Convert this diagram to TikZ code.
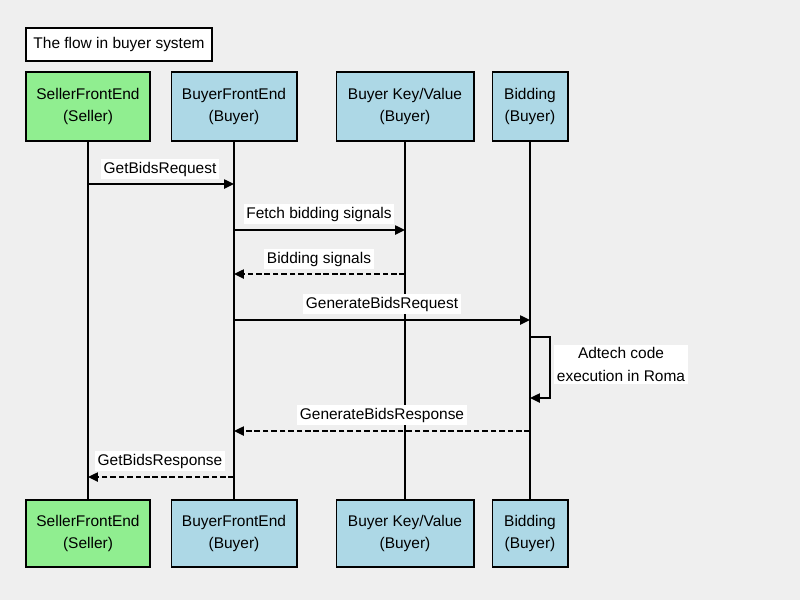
\documentclass[tikz,border=0pt]{standalone}
\usepackage{fontspec}
\setmainfont{Liberation Sans}
\usepackage{xcolor}
\usetikzlibrary{arrows.meta, positioning}

\definecolor{seller}{HTML}{90EE90}
\definecolor{buyer}{HTML}{ADD8E6}
\definecolor{canvas}{HTML}{EFEFEF}

\tikzset{
    actor/.style={draw, line width=1.4pt, minimum height=1.725cm, align=center, inner sep=2pt},
    msg/.style={line width=1.1pt},
    reply/.style={line width=1.1pt, dash pattern=on 4pt off 2pt},
    lbl/.style={fill=white, inner sep=1.8pt}
}

\begin{document}
\begin{tikzpicture}[>={Triangle[length=7pt, width=6.5pt]}, x=0.025cm, y=-0.025cm,
    font=\fontsize{11}{16.3}\selectfont]
            % Nền và khung hình
            \fill[canvas] (0,0) rectangle (800,600);
            \useasboundingbox (0,0) rectangle (800,600);

            % Tiêu đề
            \node[draw, fill=white, line width=1.2pt, minimum width=4.65cm, minimum height=0.825cm] (title) at (119,44.5) {The flow in buyer system};

            % Các khối phía trên
            \node[actor, fill=seller, minimum width=3.1cm] (sfeA) at (88,106.5) {SellerFrontEnd\\(Seller)};
            \node[actor, fill=buyer, minimum width=3.125cm] (bfeA) at (234,106.5) {BuyerFrontEnd\\(Buyer)};
            \node[actor, fill=buyer, minimum width=3.425cm] (kvA) at (405,106.5) {Buyer Key/Value\\(Buyer)};
            \node[actor, fill=buyer, minimum width=1.875cm] (bidA) at (530,106.5) {Bidding\\(Buyer)};

            % Các khối phía dưới
            \node[actor, fill=seller, minimum width=3.1cm, minimum height=1.675cm] (sfeB) at (88,533.5) {SellerFrontEnd\\(Seller)};
            \node[actor, fill=buyer, minimum width=3.125cm, minimum height=1.675cm] (bfeB) at (234,533.5) {BuyerFrontEnd\\(Buyer)};
            \node[actor, fill=buyer, minimum width=3.425cm, minimum height=1.675cm] (kvB) at (405,533.5) {Buyer Key/Value\\(Buyer)};
            \node[actor, fill=buyer, minimum width=1.875cm, minimum height=1.675cm] (bidB) at (530,533.5) {Bidding\\(Buyer)};

            % Đường sống
            \draw[msg] (sfeA) -- (sfeB);
            \draw[msg] (bfeA) -- (bfeB);
            \draw[msg] (kvA) -- (kvB);
            \draw[msg] (bidA) -- (bidB);

            % Các điểm trên đường sống
            \coordinate (s1) at (88,184);
            \coordinate (f1) at (234,184);
            \coordinate (f2) at (234,230);
            \coordinate (k2) at (405,230);
            \coordinate (k3) at (405,274);
            \coordinate (f3) at (234,274);
            \coordinate (f4) at (234,320);
            \coordinate (b4) at (530,320);
            \coordinate (b5) at (530,337);
            \coordinate (b6) at (530,398);
            \coordinate (b7) at (530,431);
            \coordinate (f7) at (234,431);
            \coordinate (f8) at (234,477);
            \coordinate (s8) at (88,477);

            % Các thông điệp
            \draw[msg, ->] (s1) -- (f1);
            \draw[msg, ->] (f2) -- (k2);
            \draw[reply, ->] (k3) -- (f3);
            \draw[msg, ->] (f4) -- (b4);
            \draw[msg, ->] (b5) -- ++(20,0) |- (b6);
            \draw[reply, ->] (b7) -- (f7);
            \draw[reply, ->] (f8) -- (s8);

            % Nhãn của thông điệp
            \node[lbl] (m1) at (160,169) {GetBidsRequest};
            \node[lbl] (m2) at (319,214) {Fetch bidding signals};
            \node[lbl] (m3) at (319,259) {Bidding signals};
            \node[lbl] (m4) at (382,304) {GenerateBidsRequest};
            \node[lbl, align=center] (m5) at (621,364.5) {Adtech code\\execution in Roma};
            \node[lbl] (m6) at (382,415) {GenerateBidsResponse};
            \node[lbl] (m7) at (160,461) {GetBidsResponse};
        \end{tikzpicture}
\end{document}
